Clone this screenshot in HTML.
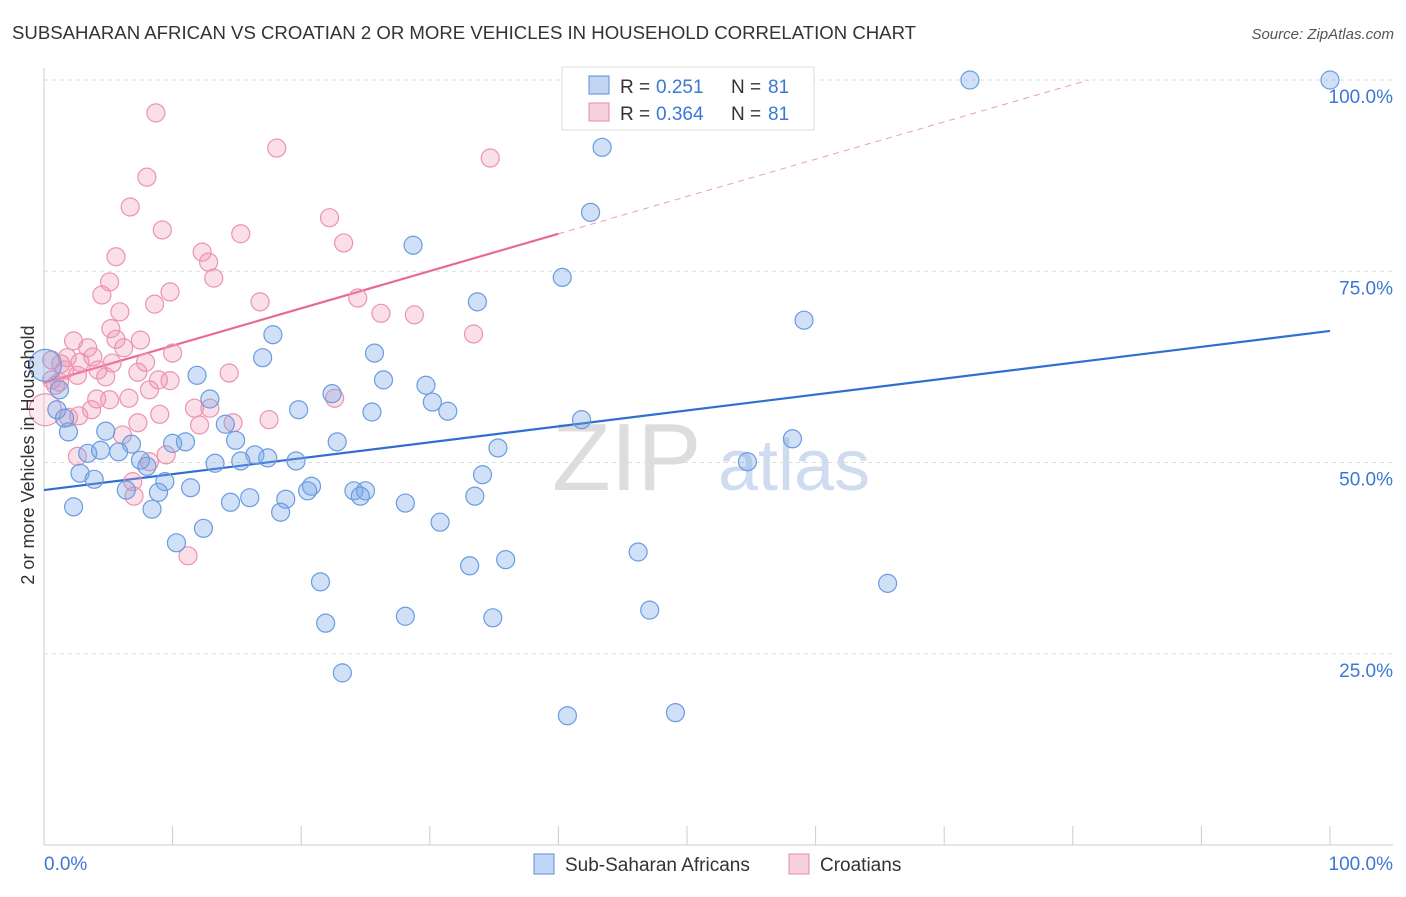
<!DOCTYPE html>
<html><head><meta charset="utf-8"><style>
body{margin:0;background:#fff;font-family:"Liberation Sans",sans-serif;}
svg text{font-family:"Liberation Sans",sans-serif;}
</style></head><body>
<svg id="chart" width="1406" height="892" xmlns="http://www.w3.org/2000/svg">
<text x="12" y="39" font-size="18.6" fill="#333">SUBSAHARAN AFRICAN VS CROATIAN 2 OR MORE VEHICLES IN HOUSEHOLD CORRELATION CHART</text>
<text x="1394" y="39" font-size="15" fill="#555" font-style="italic" text-anchor="end">Source: ZipAtlas.com</text>
<g>
<text x="552" y="490" font-size="96" fill="#ddd" font-family="Liberation Serif">ZIP</text>
<text x="718" y="490" font-size="72" fill="#cfdcf0">atlas</text>
</g>
<g id="grid"></g>
<g id="axes"></g>
<g id="lines"></g>
<g id="points"></g>
<text x="34" y="455" font-size="18" fill="#333" text-anchor="middle" transform="rotate(-90 34 455)">2 or more Vehicles in Household</text>
<g>
<rect x="562" y="67" width="252" height="63" fill="#fff" stroke="#ddd"/>
<rect x="589" y="76" width="20" height="18" fill="rgba(120,165,230,0.45)" stroke="#5b8fd9"/>
<text x="620" y="93" font-size="19" fill="#333">R =</text>
<text x="656" y="93" font-size="19" fill="#3a78d4">0.251</text>
<text x="731" y="93" font-size="19" fill="#333">N =</text>
<text x="768" y="93" font-size="19" fill="#3a78d4">81</text>
<rect x="589" y="103" width="20" height="18" fill="rgba(240,150,180,0.45)" stroke="#e98aa8"/>
<text x="620" y="120" font-size="19" fill="#333">R =</text>
<text x="656" y="120" font-size="19" fill="#3a78d4">0.364</text>
<text x="731" y="120" font-size="19" fill="#333">N =</text>
<text x="768" y="120" font-size="19" fill="#3a78d4">81</text>
</g>
<g>
<rect x="534" y="854" width="20" height="20" fill="rgba(120,165,230,0.45)" stroke="#5b8fd9"/>
<text x="565" y="871" font-size="19" fill="#333">Sub-Saharan Africans</text>
<rect x="789" y="854" width="20" height="20" fill="rgba(240,150,180,0.45)" stroke="#e98aa8"/>
<text x="820" y="871" font-size="19" fill="#333">Croatians</text>
</g>
</svg>
<script>
const blueX=[72.0,100,43.4,42.5,28.7,40.3,33.7,59.1,17.8,25.7,17.0,11.9,26.4,29.7,22.4,12.9,30.2,31.4,19.8,25.5,41.8,14.1,14.9,1.9,4.8,6.8,11.0,10.0,22.8,35.3,3.4,4.4,5.8,7.5,16.4,17.4,19.6,13.3,15.3,8.0,2.8,3.9,34.1,9.4,54.7,58.2,11.4,6.4,8.9,20.8,20.5,24.1,25.0,24.6,18.8,16.0,14.5,33.5,28.1,2.3,8.4,18.4,30.8,12.4,10.3,46.2,35.9,33.1,21.5,65.6,47.1,28.1,34.9,21.9,23.2,40.7,49.1,0.1,1.2,1.6,1.0];
const blueY=[100,100,91.2,82.7,78.4,74.2,71.0,68.6,66.7,64.3,63.7,61.4,60.8,60.1,59.0,58.3,57.9,56.7,56.9,56.6,55.6,55.0,52.9,54.0,54.1,52.4,52.7,52.5,52.7,51.9,51.2,51.6,51.4,50.3,51.0,50.6,50.2,49.9,50.2,49.5,48.6,47.8,48.4,47.5,50.1,53.1,46.7,46.4,46.1,46.9,46.3,46.3,46.3,45.6,45.2,45.4,44.8,45.6,44.7,44.2,43.9,43.5,42.2,41.4,39.5,38.3,37.3,36.5,34.4,34.2,30.7,29.9,29.7,29.0,22.5,16.9,17.3,62.7,59.5,55.8,56.9];
const pinkX=[8.7,18.1,34.7,8.0,6.7,22.2,9.2,15.3,23.3,12.3,5.6,12.8,13.2,5.1,9.8,4.5,16.8,8.6,24.4,5.9,26.2,28.8,33.4,5.2,2.3,7.5,5.6,6.2,3.4,10.0,1.8,3.8,1.3,2.8,7.9,5.3,4.2,7.3,14.4,2.6,4.8,8.9,9.8,0.6,1.2,0.9,8.2,6.6,4.1,5.1,22.6,3.7,11.7,12.9,9.0,2.7,1.9,7.3,12.1,14.7,17.5,6.1,2.6,8.2,9.5,6.9,7.0,11.2,0.6,1.6,0.1];
const pinkY=[95.7,91.1,89.8,87.3,83.4,82.0,80.4,79.9,78.7,77.5,76.9,76.2,74.1,73.6,72.3,71.9,71.0,70.7,71.5,69.7,69.5,69.3,66.8,67.5,65.9,66.0,66.1,65.0,65.0,64.3,63.7,63.8,62.9,63.1,63.1,63.0,62.1,61.8,61.7,61.4,61.2,60.8,60.7,60.8,60.5,60.1,59.5,58.4,58.3,58.2,58.4,56.9,57.1,57.1,56.3,56.1,55.9,55.2,54.9,55.2,55.6,53.6,50.8,50.1,51.0,47.5,45.6,37.8,63.4,62.1,56.9];
const blueBig=[77];const pinkBig=[70];
const yTicks=[25,50,75,100];
const yTickLabels=["25.0%","50.0%","75.0%","100.0%"];
const xTicks=[0,10,20,30,40,50,60,70,80,90,100];
const blueLine=[46.4,67.2];
const pinkLine=[60.4,0.4875];
const NS="http://www.w3.org/2000/svg";
const sx=v=>44+v*12.86, sy=v=>845-v*7.65;
function mk(p,t,a){const e=document.createElementNS(NS,t);for(const k in a)e.setAttribute(k,a[k]);document.getElementById(p).appendChild(e);return e;}
yTicks.forEach((t,i)=>{
 const g=mk('grid','line',{x1:44,x2:1393,y1:sy(t),y2:sy(t),stroke:'#ddd','stroke-dasharray':'4,4'});
 
 
 const l=mk('axes','text',{x:1393,y:sy(t)+23,'font-size':19,fill:'#3a78d4','text-anchor':'end'});
 l.textContent=yTickLabels[i];
 
 
});
const ax=mk('axes','line',{x1:44,x2:44,y1:68,y2:845,stroke:'#ccc'});


const bx=mk('axes','line',{x1:44,x2:1393,y1:845,y2:845,stroke:'#ccc'});


xTicks.forEach(t=>{
 const k=mk('axes','line',{x1:sx(t),x2:sx(t),y1:826,y2:845,stroke:'#ccc'});
 
 
});
const x0=mk('axes','text',{x:44,y:870,'font-size':19,fill:'#3a78d4'});x0.textContent='0.0%';


const x1=mk('axes','text',{x:1393,y:870,'font-size':19,fill:'#3a78d4','text-anchor':'end'});x1.textContent='100.0%';


function dot(x,y,big,blue){
 const c=mk('points','circle',{cx:sx(x),cy:sy(y),r:big?16:9,fill:blue?'rgba(120,165,230,0.35)':(big?'rgba(240,150,180,0.2)':'rgba(240,150,180,0.3)'),stroke:blue?'#6b9be0':'#eb93b0','stroke-width':1.2});
 
 
}
pinkX.forEach((x,i)=>dot(x,pinkY[i],pinkBig.includes(i),false));
blueX.forEach((x,i)=>dot(x,blueY[i],blueBig.includes(i),true));
const bl=mk('lines','line',{x1:sx(0),y1:sy(blueLine[0]),x2:sx(100),y2:sy(blueLine[1]),stroke:'#2f6fd0','stroke-width':2.2});


const pl=mk('lines','line',{x1:sx(0),y1:sy(pinkLine[0]),x2:sx(40),y2:sy(pinkLine[0]+40*pinkLine[1]),stroke:'#e86a94','stroke-width':2.2});


const xe=(100-pinkLine[0])/pinkLine[1];
const pd=mk('lines','line',{x1:sx(40),y1:sy(pinkLine[0]+40*pinkLine[1]),x2:sx(xe),y2:sy(100),stroke:'#e8a0b8','stroke-width':1,'stroke-dasharray':'6,5'});


</script>
</body></html>
